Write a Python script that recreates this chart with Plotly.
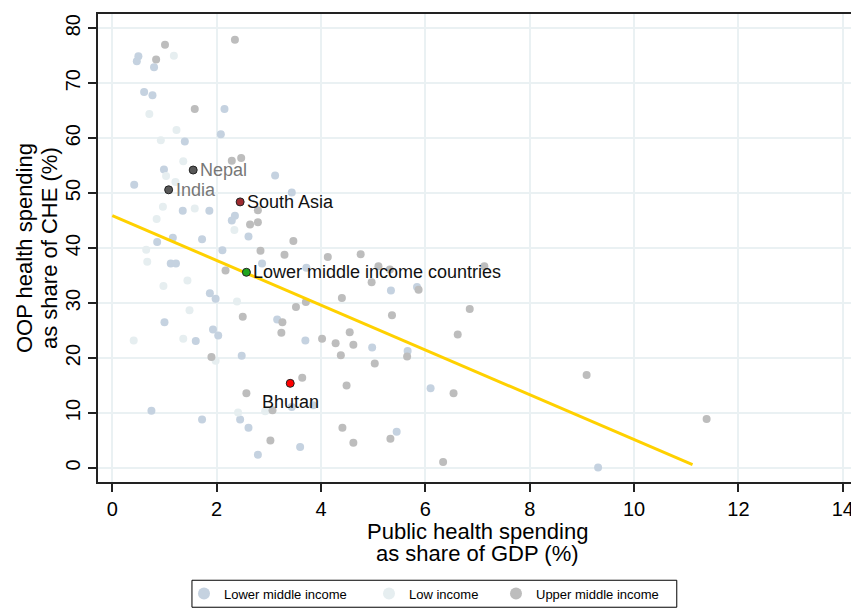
import plotly.graph_objects as go

# ---------------- data ----------------
lmi_x = [0.50, 0.47, 0.80, 0.61, 0.77, 2.15, 2.08, 1.39, 0.99, 3.12, 0.42, 3.44,
         1.35, 1.86, 2.35, 2.29, 1.16, 0.86, 1.72, 2.61, 2.11, 1.12, 1.22, 2.87,
         3.72, 1.87, 1.98, 1.00, 3.16, 1.93, 2.03, 1.60, 3.70, 2.48, 0.75, 3.44,
         3.85, 2.45, 1.72, 2.61, 3.60, 2.79, 5.34, 5.84, 4.98, 5.66, 6.10, 5.45, 9.31]
lmi_y = [74.9, 74.0, 72.9, 68.4, 67.8, 65.3, 60.7, 59.4, 54.3, 53.2, 51.5, 50.1,
         46.8, 46.8, 45.9, 45.0, 41.9, 41.1, 41.6, 42.1, 39.6, 37.2, 37.2, 37.2,
         36.4, 31.8, 30.8, 26.5, 27.0, 25.2, 24.1, 23.1, 23.2, 20.4, 10.4, 11.1,
         11.4, 8.8, 8.8, 7.3, 3.8, 2.4, 32.3, 32.9, 21.9, 21.3, 14.5, 6.6, 0.1]

low_x = [1.18, 0.71, 1.23, 0.93, 1.36, 1.03, 1.21, 0.97, 1.58, 2.34, 0.85,
         0.65, 0.67, 1.44, 0.98, 2.39, 1.48, 0.41, 1.36, 1.98, 2.41, 2.93]
low_y = [75.0, 64.4, 61.5, 59.6, 55.8, 53.1, 52.0, 47.5, 47.2, 43.3, 45.3,
         39.7, 37.5, 34.1, 33.1, 30.3, 28.7, 23.2, 23.5, 19.5, 10.1, 10.3]

umi_x = [2.35, 1.01, 0.84, 1.58, 2.29, 2.47, 2.79, 2.64, 2.79, 3.47, 2.84, 3.30,
         4.13, 2.17, 3.71, 4.40, 3.52, 2.50, 3.26, 3.24, 4.02, 4.28, 4.38, 1.90,
         3.64, 2.57, 4.49, 3.07, 4.41, 3.03, 4.76, 5.10, 5.32, 7.13, 4.97, 5.87,
         5.36, 6.85, 4.55, 4.62, 5.03, 5.65, 6.62, 6.54, 9.09, 4.62, 5.33, 6.34, 11.39]
umi_y = [77.9, 77.0, 74.3, 65.3, 55.9, 56.4, 46.9, 44.3, 44.7, 41.3, 39.5, 38.8,
         38.4, 35.9, 30.2, 30.9, 29.3, 27.5, 26.5, 24.6, 23.5, 22.7, 20.5, 20.2,
         16.4, 13.6, 15.0, 10.5, 7.3, 5.0, 38.9, 36.7, 36.1, 36.7, 33.8, 32.4,
         27.8, 28.9, 24.7, 22.4, 19.0, 20.3, 24.3, 13.6, 16.9, 4.6, 5.3, 1.1, 8.9]

# highlighted countries / aggregates
hl_names = ["Nepal", "India", "South Asia", "Lower middle income countries", "Bhutan"]
hl_x = [1.55, 1.08, 2.45, 2.57, 3.41]
hl_y = [54.2, 50.6, 48.4, 35.6, 15.4]

# linear fit line (end points)
fit_x = [0.0, 11.12]
fit_y = [45.9, 0.6]

x_ticks = [0, 2, 4, 6, 8, 10, 12, 14]
y_ticks = [0, 10, 20, 30, 40, 50, 60, 70, 80]

# ---------------- styling ----------------
FONT = "Liberation Sans, Arial, Helvetica, sans-serif"
hl_fill = ["#585858", "#585858", "#9E2A2F", "#1FA51F", "#FF0000"]
hl_text_color = ["#777777", "#777777", "#111111", "#111111", "#111111"]

# the page body adds an 8px offset; size the figure so the plot lands where intended
OFF = 8
W, H = 859 - OFF, 610 - OFF
ML = 98 - OFF
MT = 13.5 - OFF
plot_right, plot_bottom = 857.3 - OFF, 481.7 - OFF
MR = W - plot_right
MB = H - plot_bottom

fig = go.Figure()

fig.add_trace(go.Scatter(x=lmi_x, y=lmi_y, mode="markers", name="Lower middle income",
                         legend="legend",
                         marker=dict(color="#C5D2E0", size=8, line=dict(width=0))))
fig.add_trace(go.Scatter(x=low_x, y=low_y, mode="markers", name="Low income",
                         legend="legend2",
                         marker=dict(color="#E6EEF0", size=8, line=dict(width=0))))
fig.add_trace(go.Scatter(x=umi_x, y=umi_y, mode="markers", name="Upper middle income",
                         legend="legend3",
                         marker=dict(color="#BDBDBD", size=8, line=dict(width=0))))
fig.add_trace(go.Scatter(x=fit_x, y=fit_y, mode="lines", showlegend=False,
                         line=dict(color="#FFD100", width=3)))
fig.add_trace(go.Scatter(x=hl_x, y=hl_y, mode="markers", showlegend=False,
                         marker=dict(color=hl_fill, size=8,
                                     line=dict(color="#222222", width=1))))

for name, x, y, col in zip(hl_names, hl_x, hl_y, hl_text_color):
    if name == "Bhutan":
        fig.add_annotation(x=x, y=y, text=name, showarrow=False, xanchor="center",
                           yanchor="middle", yshift=-19,
                           font=dict(family=FONT, size=18, color=col))
    else:
        fig.add_annotation(x=x, y=y, text=name, showarrow=False, xanchor="left",
                           yanchor="middle", xshift=5,
                           font=dict(family=FONT, size=18, color=col))

# axis titles (two lines each)
fig.add_annotation(xref="paper", yref="paper", x=0.5, y=0, yshift=-49, text="Public health spending",
                   showarrow=False, xanchor="center", yanchor="middle",
                   font=dict(family=FONT, size=22, color="#000000"))
fig.add_annotation(xref="paper", yref="paper", x=0.5, y=0, yshift=-71, text="as share of GDP (%)",
                   showarrow=False, xanchor="center", yanchor="middle",
                   font=dict(family=FONT, size=22, color="#000000"))
fig.add_annotation(xref="paper", yref="paper", x=0, y=0.5, xshift=-74, text="OOP health spending",
                   showarrow=False, xanchor="center", yanchor="middle", textangle=-90,
                   font=dict(family=FONT, size=22, color="#000000"))
fig.add_annotation(xref="paper", yref="paper", x=0, y=0.5, xshift=-49, text="as share of CHE (%)",
                   showarrow=False, xanchor="center", yanchor="middle", textangle=-90,
                   font=dict(family=FONT, size=22, color="#000000"))

axis_common = dict(showline=True, linecolor="#222222", linewidth=1.5, mirror=True,
                   showgrid=True, gridcolor="#EAF1F3", gridwidth=1.5, zeroline=False,
                   ticks="outside", ticklen=8, tickcolor="#222222", tickwidth=1.5,
                   automargin=False,
                   tickfont=dict(family=FONT, size=20, color="#000000"))

fig.update_xaxes(range=[-0.274, 14.272], tickvals=x_ticks, **axis_common)
fig.update_yaxes(range=[-2.55, 82.58], tickvals=y_ticks, tickangle=-90, **axis_common)

# legend frame (page-pixel box 192..677 x 580..607 converted to paper coords)
pw, ph = W - ML - MR, H - MT - MB
def px2paper_x(px):
    return (px - OFF - ML) / pw
def px2paper_y(py):
    return (H - MB - (py - OFF)) / ph

fig.add_shape(type="rect", xref="paper", yref="paper",
              x0=px2paper_x(192), x1=px2paper_x(677),
              y0=px2paper_y(607), y1=px2paper_y(580),
              line=dict(color="#000000", width=1), fillcolor="rgba(0,0,0,0)")

leg_common = dict(orientation="h", xref="container", yref="container",
                  xanchor="left", yanchor="middle", y=1 - (593.5 - OFF) / H,
                  borderwidth=0, bgcolor="rgba(0,0,0,0)",
                  font=dict(family=FONT, size=13, color="#000000"),
                  itemsizing="constant")

fig.update_layout(
    width=W, height=H,
    margin=dict(l=ML, r=MR, t=MT, b=MB, autoexpand=False),
    paper_bgcolor="white", plot_bgcolor="white",
    font=dict(family=FONT, color="#000000"),
    legend=dict(x=(203 - 19 - OFF) / W, **leg_common),
    legend2=dict(x=(388 - 19 - OFF) / W, **leg_common),
    legend3=dict(x=(515 - 19 - OFF) / W, **leg_common),
    showlegend=True,
)

fig.write_html("out.html")
